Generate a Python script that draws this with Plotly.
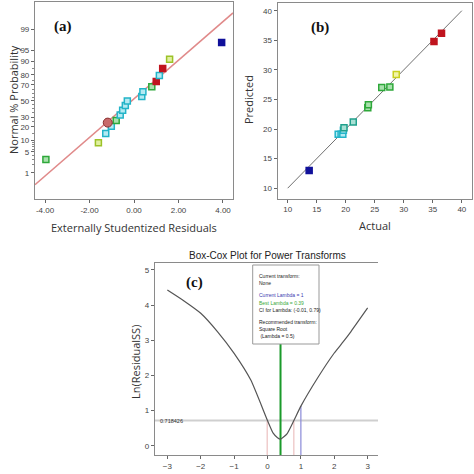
import plotly.graph_objects as go
from statistics import NormalDist

# ---------------- data ----------------
# (a) normal probability plot of externally studentized residuals (sorted)
resid_a = [-3.96, -1.60, -1.27, -1.02, -0.80, -0.62, -0.51, -0.39, -0.30,
           0.35, 0.40, 0.80, 1.00, 1.14, 1.29, 1.60, 3.94]
group_a = ["green", "lime", "cyan", "cyan", "green", "cyan", "cyan", "cyan", "cyan",
           "cyan", "cyan", "green", "red", "cyan", "red", "lime", "blue"]
highlight_resid = -1.18
highlight_prob = 24.2
fit_intercept = 0.07
fit_slope = 0.624
prob_ticks = [1, 5, 10, 20, 30, 50, 70, 80, 90, 95, 99]
prob_minor = [2, 3, 4, 6, 7, 8, 9, 15, 25, 35, 40, 45, 55, 60, 65, 75, 85]
resid_ticks = [-4, -2, 0, 2, 4]

# (b) predicted vs actual
actual_b = [13.7, 18.7, 19.2, 19.5, 19.6, 19.7, 21.3, 23.8, 23.9, 26.2, 27.6, 28.7, 35.2, 36.5]
pred_b = [13.0, 19.1, 19.1, 19.1, 19.8, 20.2, 21.2, 23.6, 24.1, 27.0, 27.1, 29.2, 34.8, 36.2]
group_b = ["blue", "cyan", "cyan", "cyan", "cyan", "teal", "teal", "green", "green",
           "green", "green", "yellow", "red", "red"]
ab_ticks = [10, 15, 20, 25, 30, 35, 40]

# (c) Box-Cox
lam = [-3, -2.5, -2, -1.5, -1, -0.5, 0, 0.17, 0.3, 0.39, 0.59, 0.79, 1, 1.5, 2, 2.27, 2.5, 3]
ln_rss = [4.43, 4.12, 3.77, 3.25, 2.63, 1.87, 0.72, 0.36, 0.23, 0.19, 0.35, 0.72, 1.13, 1.93, 2.64, 2.96, 3.25, 3.92]
best_lambda = 0.39
ci_low, ci_high = -0.01, 0.79
current_lambda = 1
current_ln = 1.13
threshold = 0.718426
box_top = 2.9
lam_ticks = [-3, -2, -1, 0, 1, 2, 3]
ln_ticks = [0, 1, 2, 3, 4, 5]
info_lines = ["Current transform:", "None", "", f"Current Lambda = {current_lambda}",
              f"Best Lambda = {best_lambda}", f"CI for Lambda: ({ci_low}, {ci_high})", "",
              "Recommended transform:", "Square Root", " (Lambda = 0.5)"]

# ---------------- styles ----------------
W = H = 474
COL = {"green": "#2ea83a", "lime": "#9cc228", "cyan": "#22b4c8", "red": "#c0141e",
       "blue": "#10109a", "teal": "#20a08c", "yellow": "#c8d020"}
FILL = {"green": "#a8e0ac", "lime": "#e0f0a0", "cyan": "#b4eaf2", "red": "#c0141e",
        "blue": "#10109a", "teal": "#a8e0d4", "yellow": "#f2f4a8"}

def px_x(p):
    return p / W

def px_y(p):
    return 1 - p / H

nd = NormalDist()
z_a = [nd.inv_cdf((i + 0.5) / len(resid_a)) for i in range(len(resid_a))]

fig = go.Figure()

# (a)
xr_a = [-4.45, 4.45]
fig.add_trace(go.Scatter(x=xr_a, y=[fit_intercept + fit_slope * v for v in xr_a],
                         mode="lines", line=dict(color="#e08a8a", width=1.5),
                         xaxis="x", yaxis="y", showlegend=False))
fig.add_trace(go.Scatter(x=resid_a, y=z_a, mode="markers",
                         marker=dict(symbol="square", size=6,
                                     color=[FILL[g] for g in group_a],
                                     line=dict(color=[COL[g] for g in group_a], width=1.5)),
                         xaxis="x", yaxis="y", showlegend=False))
fig.add_trace(go.Scatter(x=[highlight_resid], y=[nd.inv_cdf(highlight_prob / 100)], mode="markers",
                         marker=dict(symbol="circle", size=9, color="#c86a6a",
                                     line=dict(color="#8a3030", width=1)),
                         xaxis="x", yaxis="y", showlegend=False))

# (b)
fig.add_trace(go.Scatter(x=[ab_ticks[0], ab_ticks[-1]], y=[ab_ticks[0], ab_ticks[-1]],
                         mode="lines", line=dict(color="#707070", width=1),
                         xaxis="x2", yaxis="y2", showlegend=False))
fig.add_trace(go.Scatter(x=actual_b, y=pred_b, mode="markers",
                         marker=dict(symbol="square", size=6,
                                     color=[FILL[g] for g in group_b],
                                     line=dict(color=[COL[g] for g in group_b], width=1.5)),
                         xaxis="x2", yaxis="y2", showlegend=False))

# (c)
yr_c = [-0.26, 5.19]
xr_c = [-3.37, 3.31]
fig.add_trace(go.Scatter(x=xr_c, y=[threshold, threshold], mode="lines",
                         line=dict(color="#cfcfcf", width=2),
                         xaxis="x3", yaxis="y3", showlegend=False))
for lv, top, c, w in [(ci_low, threshold, "#e8b4b4", 1), (ci_high, threshold, "#e8b4b4", 1),
                      (current_lambda, current_ln, "#8a8ad8", 1.2),
                      (best_lambda, box_top, "#1a9a2a", 2)]:
    fig.add_trace(go.Scatter(x=[lv, lv], y=[yr_c[0], top], mode="lines",
                             line=dict(color=c, width=w),
                             xaxis="x3", yaxis="y3", showlegend=False))
fig.add_trace(go.Scatter(x=lam, y=ln_rss, mode="lines",
                         line=dict(color="#555555", width=1.2, shape="spline", smoothing=0.5),
                         xaxis="x3", yaxis="y3", showlegend=False))

tickfont = dict(family="Liberation Sans, Arial", size=8, color="#444444")
ax_common = dict(showgrid=False, zeroline=False, ticks="outside", ticklen=3,
                 tickcolor="#666666", tickfont=tickfont, linecolor="#8a8a8a",
                 linewidth=1.2, showline=True, automargin=False)

fig.update_layout(
    width=W, height=H, margin=dict(l=0, r=0, t=0, b=0, autoexpand=False),
    paper_bgcolor="white", plot_bgcolor="white",
    xaxis=dict(domain=[px_x(35), px_x(233)], range=xr_a, anchor="y",
               tickvals=resid_ticks, ticktext=[f"{v:.2f}" for v in resid_ticks],
               mirror=True, **ax_common),
    yaxis=dict(domain=[px_y(199), px_y(2)], range=[-3.17, 3.2], anchor="x",
               tickvals=[nd.inv_cdf(p / 100) for p in prob_ticks],
               ticktext=[str(p) for p in prob_ticks], mirror=True,
               minor=dict(tickvals=[nd.inv_cdf(p / 100) for p in prob_minor],
                          ticks="outside", ticklen=2, tickcolor="#888888"),
               **ax_common),
    xaxis2=dict(domain=[px_x(277.7), px_x(472)], range=[8.28, 41.75], anchor="y2",
                tickvals=ab_ticks, mirror=True, **ax_common),
    yaxis2=dict(domain=[px_y(198.5), px_y(3)], range=[8.26, 41.3], anchor="x2",
                tickvals=ab_ticks, mirror=True, **ax_common),
    xaxis3=dict(domain=[px_x(155), px_x(378)], range=xr_c, anchor="y3",
                tickvals=lam_ticks, mirror=True, **ax_common),
    yaxis3=dict(domain=[px_y(455), px_y(263.3)], range=yr_c, anchor="x3",
                tickvals=ln_ticks, **ax_common),
)

title_font = dict(family="Open Sans, Noto Sans, Arial", size=11, color="#333333")
ann = [
    dict(text="Externally Studentized Residuals", x=px_x(134), y=px_y(227), font=title_font),
    dict(text="Normal % Probability", x=px_x(14), y=px_y(100), textangle=-90, font=title_font),
    dict(text="Actual", x=px_x(375), y=px_y(226), font=title_font),
    dict(text="Predicted", x=px_x(249), y=px_y(100), textangle=-90, font=title_font),
    dict(text="Ln(ResidualSS)", x=px_x(135), y=px_y(362), textangle=-90, font=title_font),
    dict(text="Box-Cox Plot for Power Transforms", x=px_x(267), y=px_y(256),
         font=dict(family="Liberation Sans, Arial", size=10, color="#222222")),
    dict(text="<b>(a)</b>", x=px_x(63), y=px_y(26),
         font=dict(family="Liberation Serif, Times New Roman", size=15, color="#111111")),
    dict(text="<b>(b)</b>", x=px_x(320), y=px_y(28),
         font=dict(family="Liberation Serif, Times New Roman", size=15, color="#111111")),
    dict(text="<b>(c)</b>", x=px_x(194), y=px_y(282),
         font=dict(family="Liberation Serif, Times New Roman", size=15, color="#111111")),
    dict(text=f"{threshold}", x=px_x(158), y=px_y(421), xanchor="left",
         font=dict(family="Liberation Sans, Arial", size=5.5, color="#333333")),
]
# info box lines
line_colors = {3: "#3a3ab0", 4: "#3aaa3a"}
LINE_H, GAP_H = 7.2, 5.0
yy = 276
for i, t in enumerate(info_lines):
    if t:
        ann.append(dict(text=t, x=px_x(257), y=px_y(yy), xanchor="left",
                        font=dict(family="Liberation Sans, Arial", size=5,
                                  color=line_colors.get(i, "#222222"))))
        yy += LINE_H
    else:
        yy += GAP_H
for a in ann:
    a.setdefault("xref", "paper")
    a.setdefault("yref", "paper")
    a.setdefault("showarrow", False)
    a.setdefault("xanchor", "center")
    a.setdefault("yanchor", "middle")
fig.update_layout(annotations=ann)
fig.add_shape(type="rect", xref="paper", yref="paper",
              x0=px_x(252.7), x1=px_x(319), y0=px_y(344), y1=px_y(265),
              line=dict(color="#999999", width=1), fillcolor="white", layer="above")

fig.write_html("out.html", config={"displayModeBar": False},
               post_script="document.body.style.margin='0';document.body.style.overflow='hidden';")
